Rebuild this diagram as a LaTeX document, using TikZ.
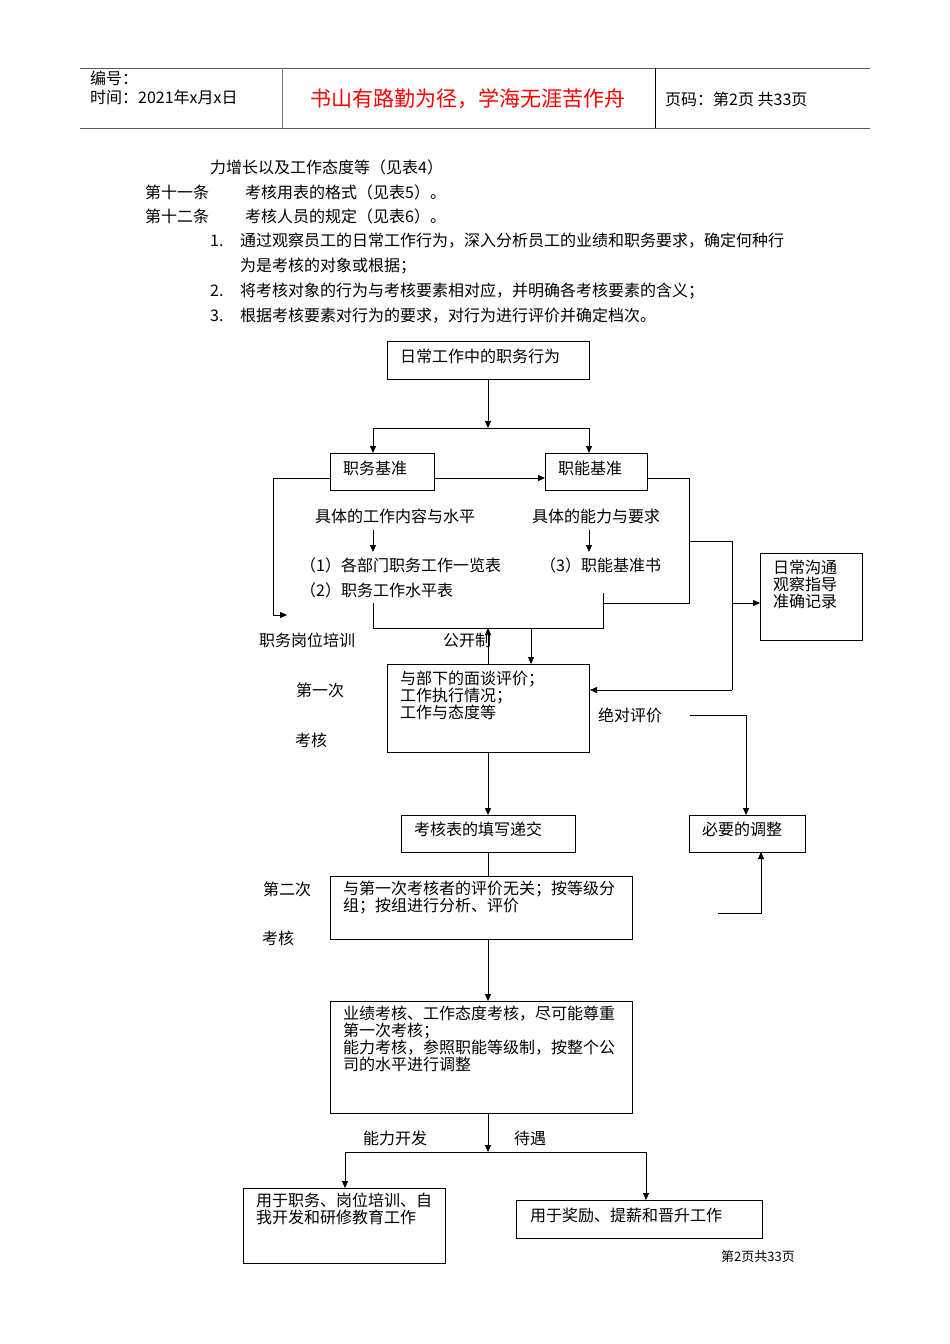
\documentclass[tikz,border=0pt]{standalone}
\usepackage{fontspec}
\setmainfont{Noto Sans CJK SC}
\usetikzlibrary{arrows.meta}
\begin{document}
\begin{tikzpicture}[x=1pt,y=-1pt,
  t/.style={inner sep=0pt,font=\fontsize{16}{17}\selectfont},
  tl/.style={t,anchor=west,align=left},
  bx/.style={draw,line width=0.8pt},
  ln/.style={line width=0.8pt},
  ar/.style={ln,-{Triangle[length=7pt,width=6pt]}}]
\useasboundingbox (0,0) rectangle (950,1344);
% header
\draw[line width=0.8pt,gray!70!black] (80,68)--(870,68) (80,128)--(870,128);
\draw[line width=0.6pt,gray] (282,68)--(282,128);
\draw[line width=0.6pt] (655,68)--(655,128);
\node[tl] (h1) at (90,78) {编号：};
\node[tl] (h2) at (90,97) {时间：2021年x月x日};
\node[t,text=red,font=\fontsize{21}{23}\selectfont] (h3) at (468,99) {书山有路勤为径，学海无涯苦作舟};
\node[tl] (h4) at (665,99) {页码：第2页 共33页};
% body text
\node[tl] (p0) at (210,167) {力增长以及工作态度等（见表4）};
\node[tl] (p1a) at (145,192) {第十一条};
\node[tl] (p1b) at (245,192) {考核用表的格式（见表5）。};
\node[tl] (p2a) at (145,216) {第十二条};
\node[tl] (p2b) at (245,216) {考核人员的规定（见表6）。};
\node[tl] (n1) at (210,241) {1.};
\node[tl] (n1t) at (240,241) {通过观察员工的日常工作行为，深入分析员工的业绩和职务要求，确定何种行};
\node[tl] (n1u) at (240,266) {为是考核的对象或根据；};
\node[tl] (n2) at (210,291) {2.};
\node[tl] (n2t) at (240,291) {将考核对象的行为与考核要素相对应，并明确各考核要素的含义；};
\node[tl] (n3) at (210,316) {3.};
\node[tl] (n3t) at (240,316) {根据考核要素对行为的要求，对行为进行评价并确定档次。};
% boxes
\draw[bx] (387,341) rectangle (589,379); \node[tl] (b1) at (400,356) {日常工作中的职务行为};
\draw[bx] (330,453) rectangle (434,490); \node[tl] (b2) at (343,468) {职务基准};
\draw[bx] (545,453) rectangle (647,490); \node[tl] (b3) at (558,468) {职能基准};
\draw[bx] (760,553) rectangle (862,640); \node[tl] (br) at (773,584) {日常沟通\\观察指导\\准确记录};
\draw[bx] (387,664) rectangle (589,752); \node[tl,anchor=north west] (b4) at (400,671) {与部下的面谈评价；\\工作执行情况；\\工作与态度等};
\draw[bx] (689,815) rectangle (805,852); \node[tl] (b5) at (702,829) {必要的调整};
\draw[bx] (401,815) rectangle (575,852); \node[tl] (b6) at (414,829) {考核表的填写递交};
\draw[bx] (330,876) rectangle (632,939); \node[tl,anchor=north west] (b7) at (343,881) {与第一次考核者的评价无关；按等级分\\组；按组进行分析、评价};
\draw[bx] (330,1001) rectangle (632,1113); \node[tl,anchor=north west] (b8) at (343,1006) {业绩考核、工作态度考核，尽可能尊重\\第一次考核；\\能力考核，参照职能等级制，按整个公\\司的水平进行调整};
\draw[bx] (243,1188) rectangle (445,1263); \node[tl,anchor=north west] (b9) at (256,1193) {用于职务、岗位培训、自\\我开发和研修教育工作};
\draw[bx] (516,1200) rectangle (762,1238); \node[tl] (b10) at (530,1215) {用于奖励、提薪和晋升工作};
% labels
\node[t] (l1) at (395,516) {具体的工作内容与水平};
\node[t] (l2) at (596,516) {具体的能力与要求};
\node[tl] (l3) at (300,565) {（1）各部门职务工作一览表};
\node[tl] (l4) at (300,590) {（2）职务工作水平表};
\node[tl] (l5) at (540,565) {（3）职能基准书};
\node[t] (l6) at (307,640) {职务岗位培训};
\node[t] (l7) at (467,640) {公开制};
\node[t] (l8) at (320,690) {第一次};
\node[t] (l9) at (311,740) {考核};
\node[t] (l10) at (630,715) {绝对评价};
\node[t] (l11) at (287,889) {第二次};
\node[t] (l12) at (278,938) {考核};
\node[t] (l13) at (395,1138) {能力开发};
\node[t] (l14) at (530,1138) {待遇};
\node[t,font=\fontsize{13}{15}\selectfont] (ft) at (758,1257) {第2页共33页};
% connectors
\draw[ar] (488,379)--(488,428);
\draw[ln] (373,428)--(589,428);
\draw[ar] (373,428)--(373,453);
\draw[ar] (589,428)--(589,453);
\draw[ar] (434,478)--(545,478);
\draw[ar] (330,478)--(273,478)--(273,615)--(287,615);
\draw[ar] (373,530)--(373,552);
\draw[ar] (589,530)--(589,552);
\draw[ln] (647,478)--(689,478)--(689,603)--(603,603);
\draw[ln] (603,593)--(603,628)--(373,628)--(373,603);
\draw[ar] (531,628)--(531,664);
\draw[ar] (488,664)--(488,628);
\draw[ln] (689,541)--(732,541)--(732,690);
\draw[ar] (732,603)--(760,603);
\draw[ar] (732,690)--(590,690);
\draw[ar] (690,715)--(746,715)--(746,815);
\draw[ar] (718,913)--(761,913)--(761,852);
\draw[ar] (488,752)--(488,815);
\draw[ln] (488,852)--(488,876);
\draw[ar] (488,939)--(488,1001);
\draw[ar] (488,1113)--(488,1152);
\draw[ln] (345,1152)--(646,1152);
\draw[ar] (345,1152)--(345,1188);
\draw[ar] (646,1152)--(646,1200);
\end{tikzpicture}
\end{document}
